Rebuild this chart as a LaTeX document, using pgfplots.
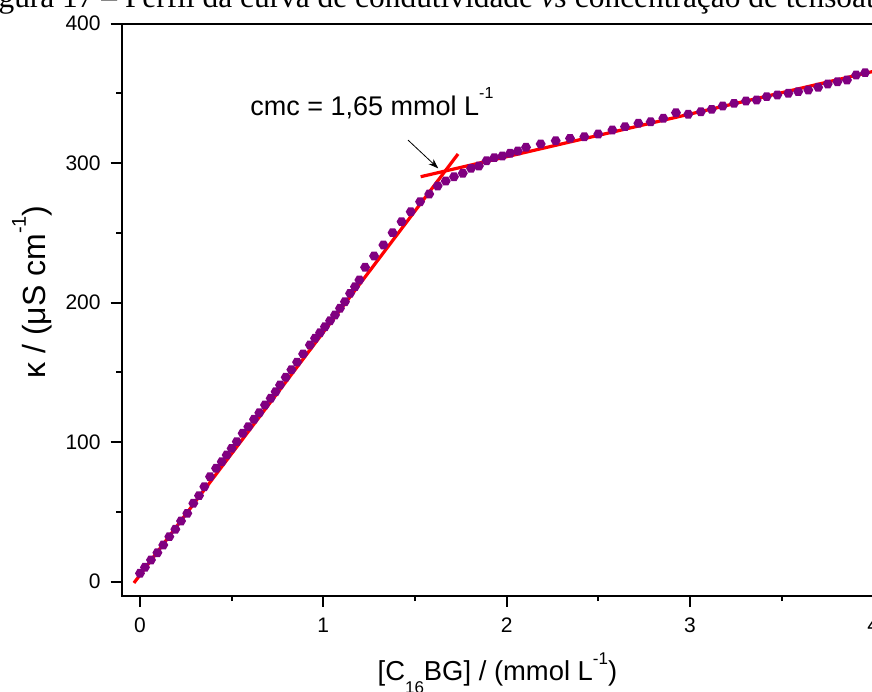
\documentclass[border=0pt]{standalone}
\usepackage{pgfplots}
\pgfplotsset{compat=1.18}
\usepackage{pgfplotstable}
\usepackage{fontspec}
\setmainfont{Liberation Sans}
\newfontfamily\timesfont{Liberation Serif}
\usetikzlibrary{arrows.meta}
\definecolor{ptpurple}{RGB}{128,0,128}
\definecolor{fitred}{RGB}{255,0,0}

\pgfdeclareplotmark{hexagon}{%
  \pgfpathmoveto{\pgfqpointpolar{0}{\pgfplotmarksize}}%
  \pgfpathlineto{\pgfqpointpolar{60}{\pgfplotmarksize}}%
  \pgfpathlineto{\pgfqpointpolar{120}{\pgfplotmarksize}}%
  \pgfpathlineto{\pgfqpointpolar{180}{\pgfplotmarksize}}%
  \pgfpathlineto{\pgfqpointpolar{240}{\pgfplotmarksize}}%
  \pgfpathlineto{\pgfqpointpolar{300}{\pgfplotmarksize}}%
  \pgfpathclose
  \pgfusepathqfill}

\pgfplotstableread{
x y
0.000 6.0
0.027 10.3
0.060 15.6
0.095 20.8
0.127 26.3
0.160 32.3
0.193 37.6
0.224 43.5
0.258 49.0
0.291 56.2
0.322 61.7
0.351 68.1
0.382 75.3
0.415 81.3
0.446 86.0
0.473 90.8
0.500 95.6
0.528 100.4
0.560 106.4
0.591 111.1
0.622 116.4
0.651 121.1
0.682 126.7
0.713 131.5
0.740 136.2
0.764 141.0
0.795 146.5
0.826 152.0
0.857 157.4
0.890 163.3
0.927 169.7
0.955 174.5
0.982 178.5
1.009 182.8
1.037 187.1
1.064 191.2
1.091 196.0
1.118 200.7
1.146 206.7
1.173 211.5
1.197 216.3
1.228 225.4
1.277 233.5
1.328 241.4
1.378 250.2
1.427 258.1
1.477 265.2
1.528 272.4
1.578 277.9
1.624 283.7
1.668 287.2
1.713 290.3
1.761 292.8
1.806 296.3
1.849 298.0
1.891 301.8
1.933 304.0
1.977 305.2
2.019 307.1
2.061 308.7
2.106 311.4
2.186 313.8
2.268 316.1
2.346 317.8
2.424 319.0
2.500 320.9
2.577 323.8
2.646 326.2
2.719 328.6
2.786 329.7
2.855 332.2
2.924 336.2
2.991 335.1
3.060 336.9
3.119 338.6
3.179 341.0
3.241 342.9
3.306 344.6
3.364 345.3
3.419 347.7
3.477 348.9
3.537 350.1
3.591 351.3
3.646 352.5
3.700 354.4
3.752 356.8
3.805 358.4
3.857 359.6
3.907 363.2
3.956 364.9
}\condtable

\begin{document}
\begin{tikzpicture}
\begin{axis}[
  name=main,
  x=91.65pt, y=0.6975pt,
  xmin=-0.1, xmax=4.0, ymin=-10, ymax=400,
  axis line style={line width=1pt},
  xtick={0,1,2,3,4}, minor xtick={0.5,1.5,2.5,3.5},
  ytick={0,100,200,300,400}, minor ytick={50,150,250,350},
  tick pos=left,
  tick align=outside,
  major tick length=5.5pt, minor tick length=2.75pt,
  every tick/.style={black, line width=1pt},
  ticklabel style={font=\fontsize{10.5}{12}\selectfont},
  xticklabel style={yshift=-2pt},
  yticklabel style={xshift=-1.5pt},
  /pgf/number format/assume math mode=true,
  xlabel={[C\raisebox{-0.45em}{\fontsize{8.5}{8.5}\selectfont 16}BG] / (mmol L\raisebox{0.6em}{\fontsize{8.5}{8.5}\selectfont -1})},
  ylabel={κ / (μS cm\raisebox{0.6em}{\fontsize{10}{10}\selectfont -1})},
  xlabel style={font=\fontsize{13.7}{15}\selectfont, at={(axis description cs:0.5,-0.149)}, anchor=base},
  ylabel style={font=\fontsize{16}{18}\selectfont, at={(axis description cs:-0.102,0.531)}, anchor=base},
]
\addplot[only marks, mark=hexagon, mark size=2.5pt, mark options={fill=ptpurple, draw=none}] table[x=x, y=y] {\condtable};
\addplot[fitred, line width=1.6pt] coordinates {(-0.033,-0.9) (1.735,306.6)};
\addplot[fitred, line width=1.6pt] coordinates {(1.531,290.3) (4.0,365.8)};
\draw[-{Stealth[length=5pt,width=3.5pt]}, line width=0.4pt] (axis cs:1.462,316.6) -- (axis cs:1.627,296.3);
\node[anchor=base west, inner sep=0pt, font=\fontsize{13.5}{15}\selectfont] at (axis cs:0.600,334.5) {cmc = 1,65 mmol L\raisebox{0.6em}{\fontsize{8}{8}\selectfont -1}};
\coordinate (bbSW) at (axis cs:-0.7638,-79.07);
\coordinate (bbNE) at (axis cs:3.9935,416.99);
\coordinate (titlepos) at (axis cs:-0.9165,411.3);
\end{axis}
\node[anchor=base west, inner sep=0pt, font=\timesfont\fontsize{15.7}{18}\selectfont] at (titlepos) {Figura 17 – Perfil da curva de condutividade \textit{vs} concentração de tensoativo};
\pgfresetboundingbox
\path[use as bounding box] (bbSW) rectangle (bbNE);
\end{tikzpicture}
\end{document}
